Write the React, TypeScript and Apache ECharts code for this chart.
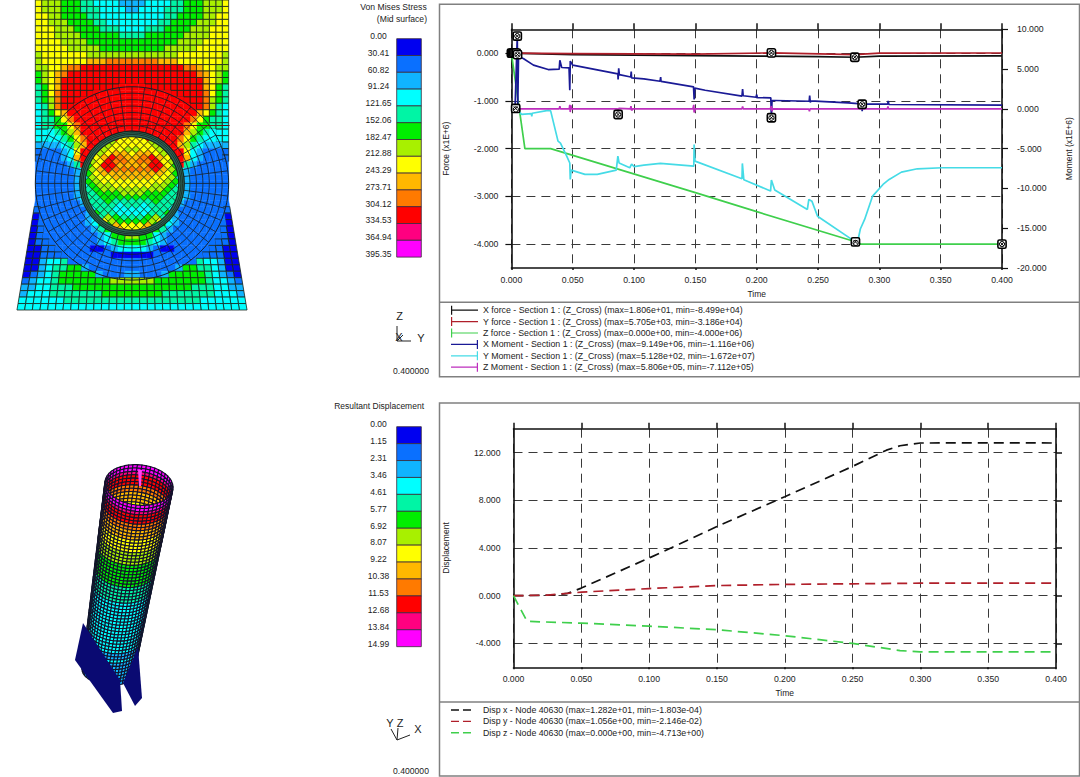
import React, { useEffect, useRef } from "react";
import * as echarts from "echarts";

const FONT = "'Liberation Sans', Arial, sans-serif";

// ---- contour palette and legends ----
const bandColors = ["#0000f0", "#0a70ff", "#10b4ff", "#00ffff", "#00f5a5", "#00ee00", "#a8f000", "#ffff00", "#ffb800", "#ff7a00", "#ff0000", "#ff0080", "#ff00ff"];
const stressTicks = ["0.00", "30.41", "60.82", "91.24", "121.65", "152.06", "182.47", "212.88", "243.29", "273.71", "304.12", "334.53", "364.94", "395.35"];
const dispTicks = ["0.00", "1.15", "2.31", "3.46", "4.61", "5.77", "6.92", "8.07", "9.22", "10.38", "11.53", "12.68", "13.84", "14.99"];

// ---- force / moment curves: [time, value] ----
const xForce = [[0, 0], [0.05, -0.03], [0.1, -0.04], [0.15, -0.05], [0.2, -0.062], [0.25, -0.072], [0.28, -0.085], [0.3, -0.06], [0.4, -0.055]];
const yForce = [[0, 0], [0.05, -0.008], [0.1, -0.015], [0.15, -0.02], [0.212, 0.0057], [0.28, -0.03], [0.3, 0.002], [0.4, 0.004]];
const zForce = [[0, 0], [0.011, -2], [0.032, -2], [0.15, -2.92], [0.2, -3.32], [0.2805, -3.95], [0.285, -4], [0.4, -4]];
const xMoment = [[0, 0], [0.003, 0.2], [0.0048, 9.15], [0.0052, 0.2], [0.0058, 6.6], [0.01, 6.3], [0.018, 5.5], [0.03, 4.94], [0.039, 5.0], [0.0395, 6.1], [0.041, 5.2], [0.047, 5.15], [0.0476, 2.34], [0.048, 6.0], [0.05, 5.5], [0.0868, 4.4], [0.087, 3.7], [0.0875, 5.1], [0.088, 4.3], [0.0973, 4.0], [0.0977, 4.7], [0.098, 3.9], [0.108, 3.77], [0.1212, 3.47], [0.1217, 4.0], [0.122, 3.45], [0.1485, 2.76], [0.149, 1.17], [0.1495, 2.6], [0.158, 2.34], [0.188, 1.6], [0.1885, 2.5], [0.189, 1.65], [0.1995, 1.46], [0.2, 1.8], [0.2005, 1.42], [0.2115, 1.38], [0.212, -1.116], [0.2125, 1.05], [0.215, 1.05], [0.2428, 0.96], [0.2432, 1.67], [0.2437, 0.8], [0.244, 1.0], [0.2745, 0.75], [0.2855, 0.63], [0.286, -0.3], [0.2865, 0.6], [0.3068, 0.59], [0.3072, 1.0], [0.3078, 0.55], [0.4, 0.46]];
const yMoment = [[0, 0], [0.004, 0.05], [0.0083, -0.7], [0.0163, -0.6], [0.0166, -0.95], [0.017, -0.55], [0.03, -0.2], [0.032, -0.25], [0.038, -4.06], [0.04, -4.3], [0.045, -5.9], [0.0476, -6.8], [0.048, -8.87], [0.0487, -7.7], [0.06, -8.24], [0.07, -8.24], [0.0855, -7.7], [0.0868, -5.94], [0.0878, -6.8], [0.0965, -7.4], [0.098, -6.95], [0.1, -7.25], [0.108, -7.07], [0.1215, -6.86], [0.1487, -7.2], [0.149, -4.48], [0.1497, -6.57], [0.188, -8.79], [0.1883, -6.86], [0.1895, -8.9], [0.2113, -10.33], [0.212, -8.95], [0.2147, -10.2], [0.2413, -12.64], [0.2425, -11.38], [0.245, -11.6], [0.2496, -13.5], [0.2805, -16.72], [0.283, -16.2], [0.2845, -15.1], [0.288, -13.9], [0.2945, -10.96], [0.303, -9.5], [0.308, -8.87], [0.318, -7.95], [0.331, -7.53], [0.351, -7.4], [0.4, -7.4]];
const zMoment = [[0, 0], [0.039, 0], [0.0395, 0.35], [0.04, 0], [0.0472, 0], [0.0476, 0.5], [0.048, -0.4], [0.0485, 0.45], [0.049, 0], [0.0865, 0], [0.087, -0.71], [0.0875, 0.05], [0.097, 0], [0.0975, 0.35], [0.098, -0.2], [0.099, 0], [0.148, 0], [0.1487, 0.5], [0.149, -0.45], [0.15, 0], [0.188, 0], [0.1885, 0.3], [0.189, 0], [0.211, 0], [0.212, 0.35], [0.2125, -0.3], [0.213, 0], [0.2425, -0.02], [0.243, -0.3], [0.2435, 0], [0.2855, 0], [0.286, 0.58], [0.2865, 0], [0.3065, 0], [0.307, 0.3], [0.3075, 0], [0.4, 0]];
const forceMarks = [[0, 0], [0.001, 0], [0.002, 0], [0.003, 0], [0.004, 0], [0.005, -0.03], [0.212, 0.0057], [0.28, -0.085], [0.4, -4]];
const momentMarks = [[0.0048, 9.15], [0.212, -1.116], [0.0035, 0.05], [0.2805, -16.72], [0.286, 0.58], [0.087, -0.71]];

// ---- displacement curves ----
const dispX = [[0, 0], [0.03, 0.05], [0.04, 0.2], [0.05, 0.64], [0.1, 3.16], [0.15, 5.8], [0.2, 8.3], [0.25, 10.84], [0.275, 12.2], [0.285, 12.57], [0.3, 12.8], [0.35, 12.82], [0.4, 12.8]];
const dispY = [[0, 0], [0.025, 0.05], [0.05, 0.3], [0.1, 0.6], [0.15, 0.85], [0.2, 0.95], [0.25, 1.0], [0.3, 1.05], [0.4, 1.056]];
const dispZ = [[0, 0], [0.01, -2.15], [0.05, -2.3], [0.1, -2.55], [0.15, -2.85], [0.2, -3.35], [0.25, -4], [0.285, -4.6], [0.3, -4.7], [0.4, -4.713]];

const timeTicksMax = 0.4;
const forceTicks = [-4, -3, -2, -1, 0];
const dispValueTicks = [-4, 0, 4, 8, 12];

const legendTop = [
  ["X force - Section 1 : (Z_Cross) (max=1.806e+01, min=-8.499e+04)", "#111111"],
  ["Y force - Section 1 : (Z_Cross) (max=5.705e+03, min=-3.186e+04)", "#b01f2a"],
  ["Z force - Section 1 : (Z_Cross) (max=0.000e+00, min=-4.000e+06)", "#3fcf4c"],
  ["X Moment - Section 1 : (Z_Cross) (max=9.149e+06, min=-1.116e+06)", "#1a1a96"],
  ["Y Moment - Section 1 : (Z_Cross) (max=5.128e+02, min=-1.672e+07)", "#45dbe6"],
  ["Z Moment - Section 1 : (Z_Cross) (max=5.806e+05, min=-7.112e+05)", "#bd2fbd"],
];
const legendBottom = [
  ["Disp x - Node 40630 (max=1.282e+01, min=-1.803e-04)", "#111111"],
  ["Disp y - Node 40630 (max=1.056e+00, min=-2.146e-02)", "#b01f2a"],
  ["Disp z - Node 40630 (max=0.000e+00, min=-4.713e+00)", "#3fcf4c"],
];

// ---- plate contour: left half of each mesh row (mirrored), band index in base 13 ----
const plateRows = [
  "766655544333322", "766655544433332", "776655554433333", "776665555443333", "777666555544433", "777666655555544",
  "777766665555555", "777776666655555", "677777776666666", "677777778889999", "6677899aaaaaaaa", "56789aaaaaaaaaa",
  "5678aaaaaaaaaaa", "4578aaaaaaaaaaa", "4579aaaaaaaaaaa", "4569aaaaaaaaaaa", "3469aaaaaaaaaaa", "34578aaaaaaaaaa",
  "344579aaaaaaaaa", "3445579aaaaaaaa", "3334568aaaaaaaa", "33334579aaaaaaa", "22223468aaaaaaa", "1111237aaaaaaaa",
  "1111238aaaaaaaa", "1111124aaaaaaaa", "111111233333333", "111111233333333", "111111233333333", "111111233333333",
  "111111233333333", "111111123333333", "111111112333333", "011111112344444", "011111112355555", "011111111245555",
  "011111111123556", "011111111123455", "001111111001233", "001111111111000", "002334111111111", "002344552111111",
  "012345555521112", "123345555555666", "223344455555555", "233344444445555", "333333444444444", "333333333333333",
];
// inner disc: staggered diamond rows, from the centre line outwards
const discRows = ["77", "776", "7776", "67765", "788765", "89a87", "899a76", "88aa75", "999a86", "888875", "888776", "777765", "777665", "666654", "665554", "555544", "444544", "43444", "33344", "33445", "4456", "5567", "778", "78"];
// tilted tube: band of each mesh ring, from rim to tip
const tubeRings = "ccbaaa998887777666655555554444433333333333333332232222222";
const footA = [[23, 173], [15, 210], [53, 263], [62, 261], [60, 230]];
const footB = [[78, 197], [82, 248], [75, 256], [63, 233]];
const tubeSpike = [[78, 20], [82, 20], [81, 36], [79, 36]];

function buildPlate() {
  const out: number[][] = [];
  plateRows.forEach((row, r) => {
    row.split("").forEach((ch, c) => {
      const b = parseInt(ch, 13);
      out.push([c, r, b]);
      out.push([29 - c, r, b]);
    });
  });
  return out;
}
function buildDisc() {
  const out: number[][] = [];
  discRows.forEach((row, k) => {
    row.split("").forEach((ch, i) => {
      const b = parseInt(ch, 13);
      const d = (2 * i + (k % 2)) * 0.617;
      const y = (k - 11.5) * 0.617;
      out.push([d, y, b]);
      if (d > 0) out.push([-d, y, b]);
    });
  });
  return out;
}
function buildTube() {
  const back: number[][] = [];
  const front: number[][] = [];
  const n = tubeRings.length;
  for (let i = 0; i < 24; i++) {
    for (let v = 0; v < 18; v++) back.push([i + 24, v, parseInt(tubeRings[v], 13)]);
  }
  for (let i = 0; i < 24; i++) {
    for (let v = 0; v < n; v++) front.push([i, v, parseInt(tubeRings[v], 13)]);
  }
  return back.concat(front);
}

const CX = 15;
const CY = 28.4;
const warp = (c: number, r: number) => {
  const k = r > 31 ? 1 + ((r - 31) / 17) * 0.19 : 1;
  return [CX + (c - CX) * k, r];
};

function plateCell(_p: any, api: any) {
  const c = api.value(0), r = api.value(1), b = api.value(2);
  const mx = c + 0.5 - CX, my = r + 0.5 - CY;
  const inFan = Math.sqrt(mx * mx + my * my) < 15;
  const pts = [[c, r], [c + 1, r], [c + 1, r + 1], [c, r + 1]].map((p) => api.coord(warp(p[0], p[1])));
  return {
    type: "polygon",
    shape: { points: pts },
    style: { fill: bandColors[b], stroke: inFan ? bandColors[b] : "#17251a", lineWidth: inFan ? 0.4 : 0.8 },
  };
}
function fanMesh(_p: any, api: any) {
  const kind = api.value(0), v = api.value(1);
  const centre = api.coord([CX, CY]);
  const unit = api.coord([CX + 1, CY])[0] - centre[0];
  if (kind === 0) {
    return { type: "circle", shape: { cx: centre[0], cy: centre[1], r: v * unit }, style: { fill: "none", stroke: "#14202a", lineWidth: v === 15 ? 1 : 0.8 } };
  }
  const a = (v * Math.PI) / 180;
  return {
    type: "line",
    shape: { x1: centre[0] + 8 * unit * Math.cos(a), y1: centre[1] + 8 * unit * Math.sin(a), x2: centre[0] + 15 * unit * Math.cos(a), y2: centre[1] + 15 * unit * Math.sin(a) },
    style: { stroke: "#14202a", lineWidth: 0.8 },
  };
}
function discCell(_p: any, api: any) {
  const d = api.value(0), y = api.value(1), b = api.value(2);
  if (Math.sqrt(d * d + y * y) > 7.5) return null;
  const h = 0.617;
  const pts = [[d, y - h], [d + h, y], [d, y + h], [d - h, y]].map((p) => api.coord([CX + p[0], CY + p[1]]));
  return { type: "polygon", shape: { points: pts }, style: { fill: bandColors[b], stroke: "#1b2a18", lineWidth: 0.7 } };
}
function ringMesh(_p: any, api: any) {
  const rad = api.value(0), w = api.value(1), col = api.value(2);
  const centre = api.coord([CX, CY]);
  const unit = api.coord([CX + 1, CY])[0] - centre[0];
  return { type: "circle", shape: { cx: centre[0], cy: centre[1], r: rad * unit }, style: { fill: "none", stroke: ["#16241f", "#2f6a58", "#3a1512"][col], lineWidth: w } };
}
function tubeCell(_p: any, api: any) {
  const u = api.value(0), v = api.value(1), b = api.value(2);
  const n = tubeRings.length;
  const pt = (uu: number, vv: number) => {
    const t = vv / n;
    const th = (uu / 24) * Math.PI;
    const a = 34 - 8 * t;
    const m = 20 - 6 * t;
    const cx = 79 - 31 * t;
    const cy = 35 + 186 * t;
    return api.coord([cx + a * Math.cos(th) - 0.15 * m * Math.sin(th), cy + m * Math.sin(th) + 0.12 * a * Math.cos(th)]);
  };
  const pts = [pt(u, v), pt(u + 1, v), pt(u + 1, v + 1), pt(u, v + 1)];
  return { type: "polygon", shape: { points: pts }, style: { fill: bandColors[b], stroke: "#12122a", lineWidth: 1.05 } };
}
function polyShape(_p: any, api: any) {
  const idx = api.value(0);
  const pts = [footA, footB, tubeSpike][idx].map((p) => api.coord(p));
  return { type: "polygon", shape: { points: pts }, style: { fill: idx === 2 ? "#ff45f5" : "#0a0a72" } };
}
function marker(_p: any, api: any) {
  const p = api.coord([api.value(0), api.value(1)]);
  const s = 3.6;
  const st = { stroke: "#000", lineWidth: 1 };
  return {
    type: "group",
    children: [
      { type: "rect", shape: { x: p[0] - s - 0.5, y: p[1] - s - 0.5, width: 2 * s + 1, height: 2 * s + 1, r: 1.5 }, style: { fill: "#fff", stroke: "#000", lineWidth: 1.6 } },
      { type: "circle", shape: { cx: p[0], cy: p[1], r: 2.6 }, style: { fill: "none", ...st } },
      { type: "line", shape: { x1: p[0] - 2, y1: p[1] - 2, x2: p[0] + 2, y2: p[1] + 2 }, style: st },
      { type: "line", shape: { x1: p[0] - 2, y1: p[1] + 2, x2: p[0] + 2, y2: p[1] - 2 }, style: st },
    ],
  };
}

const fmt3 = (v: number) => v.toFixed(3);
const axisCol = "#111";
const gridDash = { show: true, lineStyle: { color: "#3a3a3a", type: [9, 6] as any, width: 1 } };
const labelStyle = { color: "#222", fontFamily: FONT, fontSize: 8.7 };
const nameStyle = { color: "#222", fontFamily: FONT, fontSize: 8.5 };

function timeAxis(gridIndex: number) {
  return {
    type: "value", gridIndex, min: 0, max: timeTicksMax, interval: 0.05, position: "bottom",
    name: "Time", nameLocation: "middle", nameGap: 21, nameTextStyle: nameStyle,
    axisLine: { show: true, onZero: false, lineStyle: { color: axisCol, width: 1.6 } },
    axisTick: { show: true, length: 2, lineStyle: { color: axisCol, width: 1.5 } },
    axisLabel: { ...labelStyle, margin: 7, formatter: fmt3, showMinLabel: true, showMaxLabel: true },
    splitLine: gridDash,
  };
}
function topAxis(gridIndex: number) {
  return {
    type: "value", gridIndex, min: 0, max: timeTicksMax, interval: 0.05, position: "top",
    axisLine: { show: true, onZero: false, lineStyle: { color: axisCol, width: 1.6 } },
    axisTick: { show: true, length: 6, lineStyle: { color: axisCol, width: 1.5 } },
    axisLabel: { show: false }, splitLine: { show: false },
  };
}
const hiddenAxis = (gridIndex: number, min: number, max: number, inverse = false) => ({
  type: "value", gridIndex, min, max, inverse, show: false, splitLine: { show: false },
});

const lineSeries = (name: string, color: string, data: number[][], xAxisIndex: number, yAxisIndex: number, dashed = false) => ({
  type: "line", name, data, xAxisIndex, yAxisIndex, showSymbol: false, symbol: "none",
  itemStyle: { color }, lineStyle: { color, width: 1.7, type: dashed ? ([10, 6] as any) : "solid" },
  z: 3,
});

const capLeft = "path://M0 0H1.2V9H0ZM0 3.9H27V5.1H0Z";
const capRight = "path://M0 3.9H27V5.1H0ZM25.8 0H27V9H25.8Z";
const dashIcon = "path://M0 4H8V5.4H0ZM12 4H20V5.4H12ZM0 0H0.01V0.01H0ZM26.99 9H27V9.01H26.99Z";

function scaleGraphics(ticks: string[], barTop: number, step: number, labelTop: number, labelStep: number) {
  const out: any[] = [];
  bandColors.forEach((c, i) => {
    out.push({ type: "rect", shape: { x: 396.7, y: barTop + i * step, width: 24.6, height: step }, style: { fill: c, stroke: "#3a2a3a", lineWidth: 0.8 } });
  });
  ticks.forEach((t, i) => {
    out.push({ type: "text", x: 378.5, y: labelTop + i * labelStep, style: { text: t, fill: "#222", font: `8.5px ${FONT}`, align: "center", verticalAlign: "middle" } });
  });
  return out;
}
const txt = (text: string, x: number, y: number, size = 8.6, align = "center") => ({
  type: "text", x, y, style: { text, fill: "#222", font: `${size}px ${FONT}`, align, verticalAlign: "middle" },
});
const seg = (x1: number, y1: number, x2: number, y2: number, color = "#222", w = 1) => ({
  type: "line", shape: { x1, y1, x2, y2 }, style: { stroke: color, lineWidth: w },
});
const panel = (y1: number, y2: number, div: number) => [
  { type: "rect", shape: { x: 439.5, y: y1, width: 640, height: y2 - y1 }, style: { fill: "none", stroke: "#808080", lineWidth: 1.5 } },
  seg(439.5, div, 1079.5, div, "#808080", 1.5),
];

export default function App() {
  const ref = useRef<HTMLDivElement>(null);
  useEffect(() => {
    const chart = echarts.init(ref.current!, undefined, { renderer: "svg" });
    const rings = [[0, 8], [0, 9], [0, 10], [0, 11], [0, 12], [0, 13], [0, 14], [0, 15]];
    const spokes: number[][] = [];
    for (let a = 0; a < 360; a += 7.5) spokes.push([1, a]);
    chart.setOption({
      animation: false,
      backgroundColor: "#fff",
      grid: [
        { left: 511.4, top: 29.3, width: 490.6, height: 238.7 },
        { left: 513.5, top: 428.7, width: 542.5, height: 238.6 },
        { left: 16, top: 0, width: 232, height: 310 },
        { left: 60, top: 450, width: 130, height: 270 },
      ],
      xAxis: [timeAxis(0), topAxis(0), timeAxis(1), topAxis(1), hiddenAxis(2, -3, 33), hiddenAxis(3, 0, 130)],
      yAxis: [
        {
          type: "value", gridIndex: 0, min: -4.5, max: 0.5, position: "left",
          name: "Force (x1E+6)", nameLocation: "middle", nameGap: 61, nameTextStyle: nameStyle,
          axisLine: { show: true, onZero: false, lineStyle: { color: axisCol, width: 1.6 } },
          axisTick: { show: true, length: 6, customValues: forceTicks, lineStyle: { color: axisCol, width: 1.2 } },
          axisLabel: { ...labelStyle, margin: 13, customValues: forceTicks, formatter: fmt3 },
          splitLine: gridDash,
        },
        {
          type: "value", gridIndex: 0, min: -20, max: 10, interval: 5, position: "right",
          name: "Moment (x1E+6)", nameLocation: "middle", nameGap: 62.5, nameRotate: 90, nameTextStyle: nameStyle,
          axisLine: { show: true, onZero: false, lineStyle: { color: axisCol, width: 1.6 } },
          axisTick: { show: true, length: 6, lineStyle: { color: axisCol, width: 1.2 } },
          axisLabel: { ...labelStyle, margin: 15, formatter: fmt3 },
          splitLine: { show: false },
        },
        {
          type: "value", gridIndex: 1, min: -6, max: 14, position: "left",
          name: "Displacement", nameLocation: "middle", nameGap: 63, nameTextStyle: nameStyle,
          axisLine: { show: true, onZero: false, lineStyle: { color: axisCol, width: 1.6 } },
          axisTick: { show: false, customValues: dispValueTicks },
          axisLabel: { ...labelStyle, margin: 13, customValues: dispValueTicks, formatter: fmt3 },
          splitLine: gridDash,
        },
        {
          type: "value", gridIndex: 1, min: -6, max: 14, position: "right",
          axisLine: { show: true, onZero: false, lineStyle: { color: axisCol, width: 1.6 } },
          axisTick: { show: true, length: 6, customValues: dispValueTicks, lineStyle: { color: axisCol, width: 1.5 } },
          axisLabel: { show: false }, splitLine: { show: false },
        },
        hiddenAxis(2, 0, 48, true),
        hiddenAxis(3, 0, 270, true),
      ],
      legend: [
        {
          left: 451, top: 304.7, orient: "vertical", itemWidth: 27, itemHeight: 9, itemGap: 0.4, padding: 0, selectedMode: false,
          textStyle: { fontFamily: FONT, fontSize: 8.8, color: "#222", lineHeight: 11, padding: [0, 0, 0, 0] },
          data: legendTop.map((l, i) => ({ name: l[0], icon: i < 3 ? capLeft : capRight })),
        },
        {
          left: 451, top: 704.3, orient: "vertical", itemWidth: 27, itemHeight: 9, itemGap: 0.4, padding: 0, selectedMode: false,
          textStyle: { fontFamily: FONT, fontSize: 8.8, color: "#222", lineHeight: 11, padding: [0, 0, 0, 0] },
          data: legendBottom.map((l) => ({ name: l[0], icon: dashIcon })),
        },
      ],
      series: [
        lineSeries(legendTop[0][0], legendTop[0][1], xForce, 0, 0),
        lineSeries(legendTop[1][0], legendTop[1][1], yForce, 0, 0),
        lineSeries(legendTop[2][0], legendTop[2][1], zForce, 0, 0),
        lineSeries(legendTop[3][0], legendTop[3][1], xMoment, 0, 1),
        lineSeries(legendTop[4][0], legendTop[4][1], yMoment, 0, 1),
        lineSeries(legendTop[5][0], legendTop[5][1], zMoment, 0, 1),
        { type: "custom", name: "force extrema", xAxisIndex: 0, yAxisIndex: 0, data: forceMarks, renderItem: marker, z: 5, silent: true },
        { type: "custom", name: "moment extrema", xAxisIndex: 0, yAxisIndex: 1, data: momentMarks, renderItem: marker, z: 5, silent: true },
        lineSeries(legendBottom[0][0], legendBottom[0][1], dispX, 2, 2, true),
        lineSeries(legendBottom[1][0], legendBottom[1][1], dispY, 2, 2, true),
        lineSeries(legendBottom[2][0], legendBottom[2][1], dispZ, 2, 2, true),
        { type: "custom", name: "plate", xAxisIndex: 4, yAxisIndex: 4, data: buildPlate(), renderItem: plateCell, z: 1, silent: true },
        { type: "custom", name: "fan", xAxisIndex: 4, yAxisIndex: 4, data: rings.concat(spokes), renderItem: fanMesh, z: 2, silent: true },
        { type: "custom", name: "disc", xAxisIndex: 4, yAxisIndex: 4, data: buildDisc(), renderItem: discCell, z: 3, silent: true },
        { type: "custom", name: "ring", xAxisIndex: 4, yAxisIndex: 4, data: [[7.68, 5.5, 1], [7.25, 1.1, 0], [7.6, 0.8, 0], [7.85, 0.8, 0], [8.12, 1.2, 0]], renderItem: ringMesh, z: 4, silent: true },
        { type: "custom", name: "tube", xAxisIndex: 5, yAxisIndex: 5, data: buildTube(), renderItem: tubeCell, z: 2, silent: true },
        { type: "custom", name: "feet", xAxisIndex: 5, yAxisIndex: 5, data: [[0], [1]], renderItem: polyShape, z: 3, silent: true },
        { type: "custom", name: "spike", xAxisIndex: 5, yAxisIndex: 5, data: [[2]], renderItem: polyShape, z: 3, silent: true },
      ],
      graphic: { elements: [
        ...panel(4.3, 376.7, 302.3),
        ...panel(403, 776, 702),
        txt("Von Mises Stress", 426.7, 7.3, 8.6, "right"),
        txt("(Mid surface)", 427, 19, 8.6, "right"),
        ...scaleGraphics(stressTicks, 38.7, 16.8, 36, 16.77),
        txt("Resultant Displacement", 424, 406, 8.5, "right"),
        ...scaleGraphics(dispTicks, 426.7, 16.92, 424, 16.92),
        txt("Z", 399.7, 316, 11), txt("X", 399, 337, 11), txt("Y", 421, 338, 11),
        seg(397, 326, 397, 341), seg(397, 341, 411, 341), seg(397, 341, 403, 335),
        txt("0.400000", 411, 371, 8.6),
        txt("Y", 390, 722.7, 11), txt("Z", 400, 722.7, 11), txt("X", 418, 729, 11),
        seg(397, 740, 391, 729), seg(397, 740, 398, 728), seg(397, 740, 410, 735),
        txt("0.400000", 411, 770.7, 8.6),
        { type: "line", z: 50, shape: { x1: 35, y1: 125.5, x2: 229.5, y2: 125.5 }, style: { stroke: "#5a1410", lineWidth: 1 } },
      ] },
    });
    return () => chart.dispose();
  }, []);
  return <div ref={ref} style={{ position: "absolute", left: 0, top: 0, width: 1080, height: 777 }} />;
}
